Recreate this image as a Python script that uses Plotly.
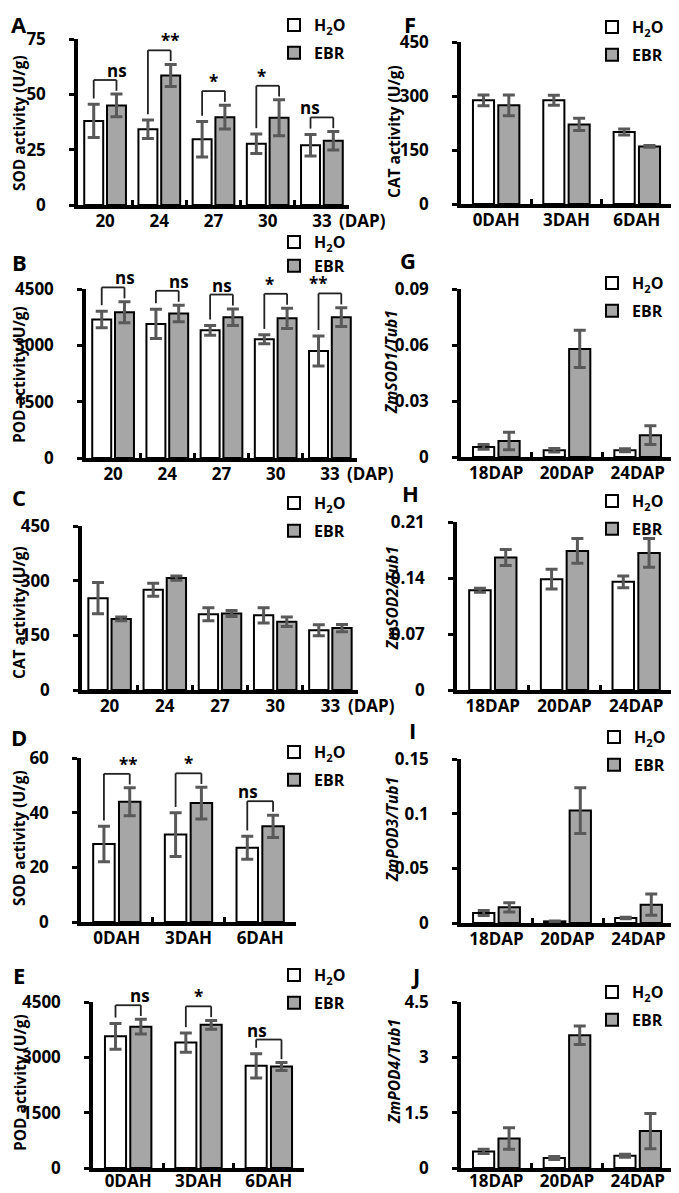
import plotly.graph_objects as go

W, H = 679, 1193
PAGE_PAD = 8  # default body margin of the html page around the plot div
FW, FH = W - PAGE_PAD, H - PAGE_PAD

# categories / tick labels
dap_days = ["20", "24", "27", "30", "33"]
dah_days = ["0DAH", "3DAH", "6DAH"]
qpcr_days = ["18DAP", "20DAP", "24DAP"]

# A - SOD activity, grain filling
sod_dap_h2o = [38.0, 34.2, 29.7, 27.7, 27.0]
sod_dap_h2o_sd = [7.5, 4.2, 8.0, 4.4, 4.9]
sod_dap_ebr = [45.0, 58.5, 39.7, 39.4, 29.0]
sod_dap_ebr_sd = [5.1, 5.0, 5.4, 8.1, 4.2]
sod_dap_sig = ["ns", "**", "*", "*", "ns"]
sod_dap_ticks = [0, 25, 50, 75]

# B - POD activity, grain filling
pod_dap_h2o = [3690, 3570, 3400, 3160, 2850]
pod_dap_h2o_sd = [220, 390, 130, 120, 400]
pod_dap_ebr = [3880, 3850, 3750, 3720, 3750]
pod_dap_ebr_sd = [280, 220, 220, 270, 250]
pod_dap_sig = ["ns", "ns", "ns", "*", "**"]
pod_dap_ticks = [0, 1500, 3000, 4500]

# C - CAT activity, grain filling
cat_dap_h2o = [252, 275, 208, 205, 164]
cat_dap_h2o_sd = [43, 18, 18, 21, 15]
cat_dap_ebr = [195, 307, 210, 187, 170]
cat_dap_ebr_sd = [5, 6, 8, 13, 10]
cat_dap_ticks = [0, 150, 300, 450]

# D - SOD activity, after harvest
sod_dah_h2o = [28.5, 32.0, 27.2]
sod_dah_h2o_sd = [6.5, 8.0, 4.2]
sod_dah_ebr = [44.0, 43.5, 35.0]
sod_dah_ebr_sd = [5.1, 5.8, 4.1]
sod_dah_sig = ["**", "*", "ns"]
sod_dah_ticks = [0, 20, 40, 60]

# E - POD activity, after harvest
pod_dah_h2o = [3570, 3400, 2770]
pod_dah_h2o_sd = [350, 260, 330]
pod_dah_ebr = [3830, 3880, 2750]
pod_dah_ebr_sd = [200, 120, 110]
pod_dah_sig = ["ns", "*", "ns"]
pod_dah_ticks = [0, 1500, 3000, 4500]

# F - CAT activity, after harvest
cat_dah_h2o = [288, 288, 200]
cat_dah_h2o_sd = [15, 14, 8]
cat_dah_ebr = [274, 221, 160]
cat_dah_ebr_sd = [29, 17, 2.5]
cat_dah_ticks = [0, 150, 300, 450]

# G - ZmSOD1 expression
sod1_h2o = [0.0054, 0.0036, 0.0036]
sod1_h2o_sd = [0.0013, 0.0009, 0.0008]
sod1_ebr = [0.0086, 0.0579, 0.0117]
sod1_ebr_sd = [0.0047, 0.0100, 0.0050]
sod1_ticks = [0, 0.03, 0.06, 0.09]

# H - ZmSOD2 expression
sod2_h2o = [0.1248, 0.1385, 0.1352]
sod2_h2o_sd = [0.0025, 0.0123, 0.0073]
sod2_ebr = [0.1656, 0.1739, 0.1714]
sod2_ebr_sd = [0.0100, 0.0154, 0.0180]
sod2_ticks = [0, 0.07, 0.14, 0.21]

# I - ZmPOD3 expression
pod3_h2o = [0.0091, 0.0015, 0.0046]
pod3_h2o_sd = [0.0023, 0.0003, 0.0006]
pod3_ebr = [0.0143, 0.1028, 0.0168]
pod3_ebr_sd = [0.0043, 0.0210, 0.0098]
pod3_ticks = [0, 0.05, 0.1, 0.15]

# J - ZmPOD4 expression
pod4_h2o = [0.45, 0.27, 0.33]
pod4_h2o_sd = [0.06, 0.04, 0.04]
pod4_ebr = [0.80, 3.60, 1.00]
pod4_ebr_sd = [0.29, 0.25, 0.48]
pod4_ticks = [0, 1.5, 3, 4.5]

FONT = "Open Sans"
GRAY = "#a6a6a6"
ERR = "#595959"

# letter, y title, categories, h2o, sd, ebr, sd, significance, ticks,
# plot box px (x0, x1, ytop, ybottom), legend px (x, y), letter px, title px
panels = [
    ("A", "SOD activity (U/g)", dap_days, sod_dap_h2o, sod_dap_h2o_sd, sod_dap_ebr, sod_dap_ebr_sd,
     sod_dap_sig, sod_dap_ticks, (78, 349, 39, 205), (274, 8), (19, 24), (19, 123)),
    ("B", "POD activity (U/g)", dap_days, pod_dap_h2o, pod_dap_h2o_sd, pod_dap_ebr, pod_dap_ebr_sd,
     pod_dap_sig, pod_dap_ticks, (86, 357, 289, 458), (274, 225), (19, 262), (19, 375)),
    ("C", "CAT activity (U/g)", dap_days, cat_dap_h2o, cat_dap_h2o_sd, cat_dap_ebr, cat_dap_ebr_sd,
     None, cat_dap_ticks, (82, 358, 526, 690), (274, 486), (19, 497), (19, 613)),
    ("D", "SOD activity (U/g)", dah_days, sod_dah_h2o, sod_dah_h2o_sd, sod_dah_ebr, sod_dah_ebr_sd,
     sod_dah_sig, sod_dah_ticks, (81, 296, 758, 922), (274, 735), (19, 737), (19, 838)),
    ("E", "POD activity (U/g)", dah_days, pod_dah_h2o, pod_dah_h2o_sd, pod_dah_ebr, pod_dah_ebr_sd,
     pod_dah_sig, pod_dah_ticks, (93, 304, 1002, 1168), (274, 958), (19, 975), (20, 1083)),
    ("F", "CAT activity (U/g)", dah_days, cat_dah_h2o, cat_dah_h2o_sd, cat_dah_ebr, cat_dah_ebr_sd,
     None, cat_dah_ticks, (461, 672, 42, 204), (592, 10), (410, 24), (394, 132)),
    ("G", "<i>ZmSOD1/Tub1</i>", qpcr_days, sod1_h2o, sod1_h2o_sd, sod1_ebr, sod1_ebr_sd,
     None, sod1_ticks, (461, 673, 289, 457), (592, 266), (408, 260), (391, 362)),
    ("H", "<i>ZmSOD2/Tub1</i>", qpcr_days, sod2_h2o, sod2_h2o_sd, sod2_ebr, sod2_ebr_sd,
     None, sod2_ticks, (457, 672, 522, 690), (592, 484), (410, 493), (392, 598)),
    ("I", "<i>ZmPOD3/Tub1</i>", qpcr_days, pod3_h2o, pod3_h2o_sd, pod3_ebr, pod3_ebr_sd,
     None, pod3_ticks, (461, 674, 759, 923), (594, 720), (413, 730), (392, 830)),
    ("J", "<i>ZmPOD4/Tub1</i>", qpcr_days, pod4_h2o, pod4_h2o_sd, pod4_ebr, pod4_ebr_sd,
     None, pod4_ticks, (461, 673, 1002, 1168), (592, 975), (415, 975), (394, 1072)),
]

fig = go.Figure()
shapes = []
annotations = []
layout = {}


def px_x(v):
    return (v - PAGE_PAD) / FW


def px_y(v):
    return 1 - (v - PAGE_PAD) / FH


for k, (letter, ytitle, cats, h2o, h2o_sd, ebr, ebr_sd, sig, ticks,
        box, leg, letter_pos, title_pos) in enumerate(panels, start=1):
    sfx = "" if k == 1 else str(k)
    xa, ya, lg = "x" + sfx, "y" + sfx, "legend" + sfx
    n = len(cats)
    if n == 5:
        bw, off_h, off_e = 0.35, -0.385, 0.035
    else:
        bw, off_h, off_e = 0.30, -0.33, 0.03

    fig.add_trace(go.Bar(
        x=cats, y=h2o, name="H<sub>2</sub>O", xaxis=xa, yaxis=ya,
        legend=lg, legendgroup=f"h{k}",
        width=bw, offset=off_h,
        marker=dict(color="white", line=dict(color="black", width=2)),
        error_y=dict(type="data", array=h2o_sd, color=ERR, thickness=3, width=6),
    ))
    fig.add_trace(go.Bar(
        x=cats, y=ebr, name="EBR", xaxis=xa, yaxis=ya,
        legend=lg, legendgroup=f"e{k}",
        width=bw, offset=off_e,
        marker=dict(color=GRAY, line=dict(color="black", width=2)),
        error_y=dict(type="data", array=ebr_sd, color=ERR, thickness=3, width=6),
    ))

    x0, x1, yt, yb = box
    # the bottom row sits close to the page edge, so its labels hug the axis
    x_standoff = -5 if yb > 1100 else -2
    layout["xaxis" + sfx] = dict(
        type="category", categoryorder="array", categoryarray=cats,
        domain=[px_x(x0), px_x(x1)], anchor=ya, range=[-0.5, n - 0.5],
        showline=True, linewidth=3.5, linecolor="black", mirror=False,
        ticks="inside", tickson="boundaries", ticklen=5, tickwidth=3, tickcolor="black",
        ticklabelstandoff=x_standoff,
        showgrid=False, zeroline=False, automargin=False,
        tickfont=dict(family=FONT, size=17, color="black", weight="bold"),
    )
    layout["yaxis" + sfx] = dict(
        domain=[px_y(yb), px_y(yt)], anchor=xa, range=[0, ticks[-1]],
        tickvals=ticks, ticktext=[f"{t:g}" for t in ticks],
        showline=True, linewidth=3.5, linecolor="black",
        ticks="outside", ticklen=5, tickwidth=3, tickcolor="black",
        ticklabelstandoff=20,
        showgrid=False, zeroline=False, automargin=False,
        tickfont=dict(family=FONT, size=17, color="black", weight="bold"),
    )
    layout[lg] = dict(
        x=px_x(leg[0]), y=px_y(leg[1]), xanchor="left", yanchor="top",
        bgcolor="rgba(0,0,0,0)", itemwidth=30, tracegroupgap=0 if k == 2 else 4,
        font=dict(family=FONT, size=16, color="black", weight="bold"),
    )

    # panel letter and y-axis title
    annotations.append(dict(
        text=letter, x=px_x(letter_pos[0]), y=px_y(letter_pos[1]), xref="paper", yref="paper",
        xanchor="center", yanchor="middle", showarrow=False,
        font=dict(family=FONT, size=22, color="black", weight="bold"),
    ))
    annotations.append(dict(
        text=ytitle, x=px_x(title_pos[0]), y=px_y(title_pos[1]), xref="paper", yref="paper",
        xanchor="center", yanchor="middle", textangle=-90, showarrow=False,
        font=dict(family=FONT, size=15.5, color="black", weight="bold"),
    ))

    if cats is dap_days:
        annotations.append(dict(
            text="(DAP)", x=n - 1 + 0.28, y=0, xref=xa, yref=ya + " domain",
            xanchor="left", yanchor="top", yshift=-2, showarrow=False,
            font=dict(family=FONT, size=17, color="black", weight="bold"),
        ))

    # significance brackets, placed in axis-domain units so they may rise above the top tick
    if sig:
        for i, s in enumerate(sig):
            ch = (i + 0.5 + off_h + bw / 2) / n
            ce = (i + 0.5 + off_e + bw / 2) / n
            th = (h2o[i] + h2o_sd[i]) / ticks[-1]
            te = (ebr[i] + ebr_sd[i]) / ticks[-1]
            top = max(th, te) + 0.085
            pts = [(ch, th + 0.035), (ch, top), (ce, top), (ce, te + 0.02)]
            for (ax_, ay_), (bx_, by_) in zip(pts[:-1], pts[1:]):
                shapes.append(dict(type="line", xref=xa + " domain", yref=ya + " domain",
                                   x0=ax_, y0=ay_, x1=bx_, y1=by_,
                                   line=dict(color="#222222", width=1.8)))
            annotations.append(dict(
                text=s, x=(ch + ce) / 2, y=top, xref=xa + " domain", yref=ya + " domain",
                yanchor="bottom", showarrow=False, yshift=-4,
                font=dict(family=FONT, size=17, color="black", weight="bold"),
            ))

fig.update_layout(
    width=FW, height=FH, autosize=False,
    margin=dict(l=0, r=0, t=0, b=0, pad=0, autoexpand=False),
    paper_bgcolor="white", plot_bgcolor="white",
    barmode="overlay",
    font=dict(family=FONT, size=15, color="black", weight="bold"),
    shapes=shapes, annotations=annotations,
    **layout,
)

fig.write_html("out.html")
